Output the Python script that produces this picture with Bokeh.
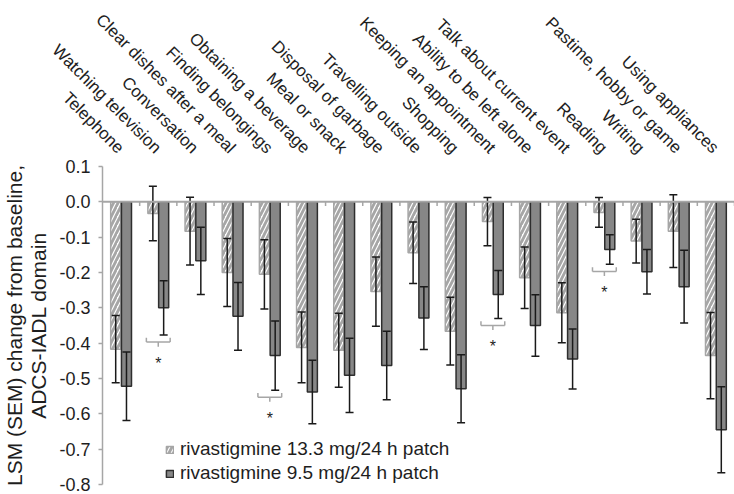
import math
from bokeh.plotting import figure
from bokeh.models import (ColumnDataSource, FactorRange, Range1d, Legend, CategoricalAxis,
                          LegendItem, Span, FixedTicker, NumeralTickFormatter)
from bokeh.transform import dodge
from bokeh.embed import file_html
from bokeh.resources import INLINE
from bokeh.core.properties import value

# ---------------- data ----------------
categories = ["Telephone", "Watching television", "Conversation", "Clear dishes after a meal",
              "Finding belongings", "Obtaining a beverage", "Meal or snack", "Disposal of garbage",
              "Travelling outside", "Shopping", "Keeping an appointment", "Ability to be left alone",
              "Talk about current event", "Reading", "Writing", "Pastime, hobby or game",
              "Using appliances"]
lsm_13_3 = [-0.417, -0.033, -0.083, -0.200, -0.205, -0.412, -0.420, -0.254, -0.144,
            -0.366, -0.056, -0.215, -0.314, -0.030, -0.111, -0.083, -0.435]
sem_13_3 = [0.095, 0.077, 0.096, 0.096, 0.098, 0.100, 0.105, 0.098, 0.087,
            0.096, 0.068, 0.087, 0.085, 0.042, 0.062, 0.103, 0.122]
lsm_9_5 = [-0.522, -0.300, -0.167, -0.324, -0.435, -0.538, -0.491, -0.463, -0.329,
           -0.529, -0.262, -0.350, -0.445, -0.135, -0.198, -0.240, -0.645]
sem_9_5 = [0.097, 0.077, 0.095, 0.096, 0.098, 0.090, 0.105, 0.097, 0.089,
           0.096, 0.068, 0.087, 0.085, 0.042, 0.063, 0.103, 0.122]
significant = ["Watching television", "Finding belongings", "Keeping an appointment", "Reading"]
series_labels = ["rivastigmine 13.3 mg/24 h patch", "rivastigmine 9.5 mg/24 h patch"]
y_ticks = [0.1, 0.0, -0.1, -0.2, -0.3, -0.4, -0.5, -0.6, -0.7, -0.8]
y_title = "LSM (SEM) change from baseline,\nADCS-IADL domain"

# ---------------- styling ----------------
FONT = "Liberation Sans"
AXIS_GRAY = "#a6a6a6"
DARK_FILL = "#878787"
EDGE = "#2e2e2e"
TEXT = "#1e1e1e"
OFF = 0.145
BAR_W = 0.27
CAP = 8

src = ColumnDataSource(dict(
    cat=categories,
    v13=lsm_13_3, lo13=[v - s for v, s in zip(lsm_13_3, sem_13_3)],
    hi13=[v + s for v, s in zip(lsm_13_3, sem_13_3)],
    v95=lsm_9_5, lo95=[v - s for v, s in zip(lsm_9_5, sem_9_5)],
    hi95=[v + s for v, s in zip(lsm_9_5, sem_9_5)],
))

sig_lo = [lsm_9_5[categories.index(c)] - sem_9_5[categories.index(c)] for c in significant]
sig_src = ColumnDataSource(dict(
    cat=significant,
    yb=[y - 0.02 for y in sig_lo],
    yup=[y - 0.008 for y in sig_lo],
    ydn=[y - 0.033 for y in sig_lo],
    ystar=[y - 0.08 for y in sig_lo],
    star=["*"] * len(significant),
))

p = figure(width=734, height=494, x_range=FactorRange(*categories, range_padding=0),
           y_range=Range1d(y_ticks[-1], y_ticks[0]), x_axis_location=None,
           output_backend="svg", toolbar_location=None,
           min_border_left=100, min_border_right=0, min_border_top=165, min_border_bottom=10)
p.outline_line_color = None
p.xgrid.visible = False
p.ygrid.visible = False
p.background_fill_color = "white"

yax = p.yaxis[0]
yax.ticker = FixedTicker(ticks=y_ticks)
yax.formatter = NumeralTickFormatter(format="0.0")
yax.axis_line_color = AXIS_GRAY
yax.axis_line_width = 1.5
yax.major_tick_line_color = AXIS_GRAY
yax.major_tick_line_width = 1.5
yax.major_tick_out = 4
yax.major_tick_in = 0
yax.minor_tick_line_color = None
yax.major_label_text_font = FONT
yax.major_label_text_font_size = "18px"
yax.major_label_text_color = TEXT
yax.major_label_standoff = 8
yax.axis_label = y_title
yax.axis_label_text_font = FONT
yax.axis_label_text_font_size = "21px"
yax.axis_label_text_font_style = "normal"
yax.axis_label_text_color = TEXT
yax.axis_label_text_line_height = 1.05
yax.axis_label_standoff = 6

# category labels on a top axis (no line / ticks)
top = CategoricalAxis(major_label_orientation=-math.pi / 4, axis_line_color=None,
                      major_tick_line_color=None, minor_tick_line_color=None,
                      major_tick_out=0, major_tick_in=0, major_label_standoff=16,
                      major_label_text_font=FONT, major_label_text_font_size="17px",
                      major_label_text_color=TEXT)
p.add_layout(top, "above")

x13 = dodge("cat", -OFF, range=p.x_range)
x95 = dodge("cat", OFF, range=p.x_range)

r13 = p.vbar(x=x13, top="v13", bottom=0, width=BAR_W, source=src,
             fill_color="white", line_color=AXIS_GRAY, line_width=1.5,
             hatch_pattern="/", hatch_color=AXIS_GRAY, hatch_weight=2.8, hatch_scale=9)
r95 = p.vbar(x=x95, top="v95", bottom=0, width=BAR_W, source=src,
             fill_color=DARK_FILL, line_color=EDGE, line_width=1.5)

p.add_layout(Span(location=0, dimension="width", line_color=AXIS_GRAY, line_width=2))
xb = dodge("cat", 0.5, range=p.x_range)
p.segment(x0=xb, x1=xb, y0=0, y1=-0.012, source=src, line_color=AXIS_GRAY, line_width=1.5)

for xx, lo, hi in [(x13, "lo13", "hi13"), (x95, "lo95", "hi95")]:
    p.segment(x0=xx, x1=xx, y0=lo, y1=hi, source=src, line_color="#1a1a1a", line_width=1.5)
    p.scatter(x=xx, y=lo, marker="dash", size=CAP, source=src, line_color="#1a1a1a", line_width=1.5)
    p.scatter(x=xx, y=hi, marker="dash", size=CAP, source=src, line_color="#1a1a1a", line_width=1.5)

# significance brackets
bl = dodge("cat", -0.32, range=p.x_range)
br = dodge("cat", 0.32, range=p.x_range)
bc = dodge("cat", 0.0, range=p.x_range)
p.segment(x0=bl, x1=br, y0="yb", y1="yb", source=sig_src, line_color=AXIS_GRAY, line_width=1.5)
p.segment(x0=bl, x1=bl, y0="yb", y1="yup", source=sig_src, line_color=AXIS_GRAY, line_width=1.5)
p.segment(x0=br, x1=br, y0="yb", y1="yup", source=sig_src, line_color=AXIS_GRAY, line_width=1.5)
p.segment(x0=bc, x1=bc, y0="yb", y1="ydn", source=sig_src, line_color=AXIS_GRAY, line_width=1.5)
p.text(x=bc, y="ystar", text="star", source=sig_src, text_align="center", text_baseline="middle",
       text_font=value(FONT), text_font_size="16px", text_color=TEXT)

legend = Legend(items=[LegendItem(label=series_labels[0], renderers=[r13]),
                       LegendItem(label=series_labels[1], renderers=[r95])],
                location=(63, 0), padding=0, margin=0, spacing=2,
                glyph_width=9, glyph_height=9, label_standoff=6, label_height=20,
                label_text_font=FONT, label_text_font_size="19px", label_text_color=TEXT,
                border_line_color=None, background_fill_alpha=0)
p.add_layout(legend)

open("out.html", "w").write(file_html(p, INLINE))
